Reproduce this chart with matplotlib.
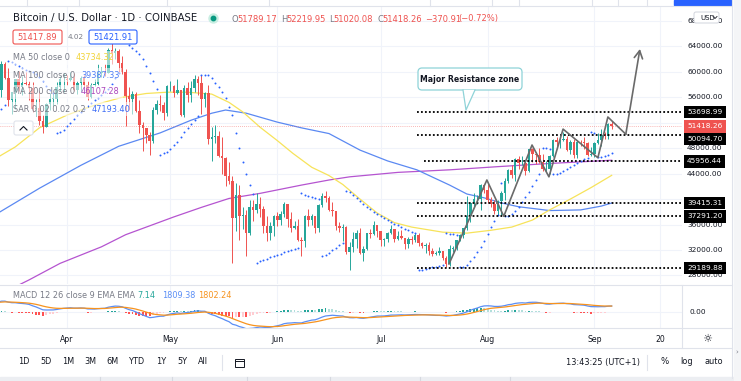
import numpy as np
import pandas as pd
import matplotlib
matplotlib.use("Agg")
from matplotlib import pyplot as plt
import matplotlib.transforms as mtransforms
from matplotlib.patches import Rectangle, FancyBboxPatch, Polygon
from matplotlib.lines import Line2D

W, H = 741, 381

# BTC/USD daily candles (COINBASE), 2021-03-12 .. 2021-09-06, open = previous close
first_day = "2021-03-12"
first_open = 57800
closes = [57200, 61200, 59000, 55600, 56900, 58900, 57600, 58300, 58100, 57400,
          54100, 54300, 52300, 51300, 55000, 55800, 55800, 57600, 58800, 58800,
          # Apr
          58700, 59000, 57100, 58200, 59100, 57900, 56000, 58000, 58100, 59800,
          59900, 59800, 63500, 62900, 63200, 61400, 60000, 56200, 55700, 56500,
          53800, 51700, 51100, 50100, 49100, 54000, 55000, 54800, 53500, 57700,
          # May
          57800, 56600, 57200, 53200, 57500, 56400, 57400, 58900, 58300, 55800,
          56700, 49400, 49700, 49900, 46800, 46400, 43600, 42900, 37000, 40700,
          37300, 37500, 34700, 38800, 38300, 39300, 38500, 35700, 34600, 35700, 37300,
          # Jun
          36700, 37600, 39200, 36900, 35500, 35800, 33600, 33400, 37400, 36700,
          37300, 35500, 39000, 40500, 40200, 38300, 38100, 35800, 35500, 35600,
          31700, 32500, 33700, 34700, 31600, 32200, 34700, 34500, 35900, 35000,
          # Jul
          33500, 33800, 34700, 35300, 33700, 34200, 33900, 32900, 33800, 33500,
          34300, 33100, 32700, 32800, 31900, 31400, 31500, 31800, 30800, 29800,
          32100, 32300, 33600, 34300, 35400, 37300, 39400, 40000, 40000, 42200, 41500,
          # Aug
          39900, 39200, 38200, 39700, 40900, 42800, 44600, 43800, 46300, 45600,
          45600, 44400, 47800, 47100, 47000, 45900, 44700, 44700, 46800, 49300,
          48900, 49300, 49500, 47700, 48900, 47000, 49000, 48900, 48800, 46900, 47100,
          # Sep
          48800, 49300, 50000, 49900, 51789, 51418]
highs = [58000, 61700, 61600, 60600, 56900, 58900, 60100, 59400, 59900, 58600,
         58400, 55800, 57200, 53200, 55100, 56600, 56600, 58400, 59400, 59800,
         59500, 60000, 59800, 58500, 59300, 59500, 58600, 58200, 58900, 61200,
         60700, 61200, 63800, 64900, 63800, 63600, 62500, 60400, 57600, 57000,
         56800, 55500, 52100, 51200, 50500, 54400, 55500, 56400, 55200, 58000,
         58500, 57900, 58900, 57200, 57900, 58400, 58600, 59500, 59300, 59500,
         56900, 58000, 51400, 51600, 50700, 49800, 46600, 45800, 43600, 42500,
         42200, 38800, 38300, 39900, 39800, 40900, 40400, 38900, 37300, 36400, 37500,
         37900, 38200, 39500, 39300, 37900, 36500, 36800, 34100, 37500, 38400,
         37700, 37400, 39300, 41000, 41300, 40500, 39500, 38200, 36400, 36100,
         35700, 33300, 34800, 35200, 35500, 32700, 34700, 35300, 36600, 36000,
         35000, 33900, 34900, 35900, 35300, 35000, 35100, 33900, 34100, 34200,
         34600, 34700, 33300, 33100, 33200, 32300, 31900, 32400, 31900, 31000,
         32800, 32600, 33600, 34500, 35400, 40500, 39500, 40900, 40600, 42300, 42400,
         42600, 40400, 39800, 39900, 41300, 43300, 44700, 45300, 46500, 46700,
         46800, 46200, 47900, 48100, 47400, 48000, 47100, 46000, 47000, 49400,
         49800, 49500, 50500, 49900, 49300, 49400, 49300, 49300, 49700, 48900, 48200,
         48900, 50400, 51000, 50600, 51900, 52220]
lows = [54900, 56100, 58900, 54600, 53300, 54100, 57000, 56300, 57900, 55500,
        53700, 53000, 51700, 50400, 51300, 54000, 54700, 54900, 57000, 56900,
        57900, 58500, 57000, 56500, 56800, 57600, 55500, 55900, 57700, 57900,
        59200, 59400, 59800, 61300, 62000, 60000, 59600, 51500, 54000, 53400,
        53700, 50400, 47500, 48800, 47000, 48800, 53300, 53900, 52400, 53000,
        57000, 56000, 56500, 53000, 52900, 55200, 55300, 56900, 56300, 53400,
        54400, 48600, 46000, 48800, 46600, 43900, 42100, 42300, 30000, 35000,
        33500, 35300, 31100, 34300, 36500, 37800, 37200, 34700, 33400, 33500, 34200,
        35700, 35900, 37200, 35600, 34800, 35300, 33400, 31000, 32400, 35800,
        35900, 34700, 34800, 38800, 39600, 38100, 37400, 35200, 34900, 33400,
        31300, 28800, 31700, 32300, 31300, 30200, 32000, 33900, 34300, 34000,
        32700, 32700, 33300, 34500, 33200, 33500, 33800, 32100, 32300, 33000,
        33300, 32700, 32300, 31600, 31200, 31000, 31200, 31200, 30400, 29300,
        29500, 31700, 32000, 33400, 33900, 35200, 36400, 38800, 39300, 38300, 41000,
        39400, 38700, 37600, 37500, 37300, 39900, 42500, 43300, 42800, 44700,
        45400, 43800, 44300, 45900, 45500, 45600, 44400, 44200, 43900, 46600,
        48300, 48100, 49100, 47600, 47100, 46400, 46400, 48400, 47800, 46800, 46700,
        46600, 48600, 48400, 49500, 49500, 51020]

# moving averages (x = days counted from 2021-03-01)
ma50_day = [11.6, 16, 23, 31, 36, 41, 47, 54, 60, 66, 73, 78, 82, 87, 92, 96.5,
            102, 107, 111, 116, 121, 126, 131, 140, 147, 154, 160, 166, 171, 177, 183, 189]
ma50_val = [46800, 48200, 51200, 53200, 54200, 55100, 56000, 56600, 56800, 56800, 56500,
            55200, 53700, 51300, 49200, 47200, 45000, 43700, 42300, 40000, 37800, 36300,
            35600, 34800, 34650, 35100, 35600, 36700, 38300, 40000, 41800, 43734]
ma100_day = [11.6, 23, 35, 46, 58, 67, 73, 77, 83, 92, 99, 107, 116, 124, 132.5,
             142, 147, 152, 157, 162, 171, 180, 186, 189]
ma100_val = [38000, 41700, 45300, 48300, 50400, 52400, 53500, 54000, 53500, 52100, 51200,
             50300, 47700, 46000, 44600, 42200, 40800, 40200, 39400, 38800, 38200, 38300,
             38900, 39387]
ma200_day = [11.6, 17.4, 20, 29, 41, 48, 55, 62, 70, 78, 87, 99, 107, 113, 127, 142,
             156, 171, 189]
ma200_val = [25100, 26600, 27300, 29900, 32500, 34400, 35800, 37200, 38700, 40100, 40900,
             42200, 43000, 43500, 44200, 44600, 45100, 45600, 46107]

# indicator state at the start of the window
sar_seed, sar_ep_seed, sar_af_seed = 53600, 58000, 0.06
macd_seed_fast, macd_seed_slow, macd_seed_signal = 54500, 51500, 2900

# drawings
levels = [53698.99, 50094.70, 45956.44, 39415.31, 37291.20, 29189.88]
level_start = [132.5, 132.5, 134.5, 132.5, 132.5, 132.5]
label_shift = [0, -4, 0, 0, 0, 0]          # px, axis label pushed off the last-price tag
zig_day = [141.8, 152.8, 157.7, 165.9, 170.8, 174.9, 185.0, 187.9, 193.1]
zig_price = [29800, 43000, 37300, 48500, 43500, 51000, 46500, 52900, 50200]
arrow_day, arrow_price = 197.2, 63600
last_price = 51418.26
price_ticks = [28000, 32000, 36000, 40000, 44000, 48000, 52000, 56000, 60000, 64000, 68000]
hidden_ticks = [40000, 52000]
month_days = ["2021-04-01", "2021-05-01", "2021-06-01", "2021-07-01", "2021-08-01",
              "2021-09-01", "2021-09-20"]
month_labels = ["Apr", "May", "Jun", "Jul", "Aug", "Sep", "20"]

UP, DOWN = "#26a69a", "#ef5350"
TXT, GREY, GRID, LINE = "#131722", "#787b86", "#f0f3fa", "#e0e3eb"
BLUE = "#2962ff"


def parabolic_sar(hi, lo, sar, ep, af, up, step=0.02, max_af=0.2):
    out = []
    for i in range(len(hi)):
        s = sar + af * (ep - sar)
        if up:
            if i > 0:
                s = min(s, lo[i - 1])
            if i > 1:
                s = min(s, lo[i - 2])
            if lo[i] < s:
                up, s, ep, af = False, ep, lo[i], step
            elif hi[i] > ep:
                ep, af = hi[i], min(af + step, max_af)
        else:
            if i > 0:
                s = max(s, hi[i - 1])
            if i > 1:
                s = max(s, hi[i - 2])
            if hi[i] > s:
                up, s, ep, af = True, ep, hi[i], step
            elif lo[i] < ep:
                ep, af = lo[i], min(af + step, max_af)
        out.append(s)
        sar = s
    return np.array(out)


def ema(values, start, n):
    k = 2.0 / (n + 1)
    out, e = [], start
    for v in values:
        e = e + k * (v - e)
        out.append(e)
    return np.array(out)


dates = pd.date_range(first_day, periods=len(closes), freq="D")
day0 = pd.Timestamp("2021-03-01")
x = np.array((dates - day0).days, dtype=float)
c = np.array(closes, float)
h = np.array(highs, float)
l = np.array(lows, float)
o = np.concatenate([[first_open], c[:-1]])

sar = parabolic_sar(h, l, sar_seed, sar_ep_seed, sar_af_seed, True)
macd = ema(c, macd_seed_fast, 12) - ema(c, macd_seed_slow, 26)
signal = ema(macd, macd_seed_signal, 9)
hist = macd - signal
mdays = np.array((pd.to_datetime(month_days) - day0).days, dtype=float)

fig = plt.figure(figsize=(W / 100, H / 100), dpi=100)
fig.patch.set_facecolor("white")
PX = mtransforms.IdentityTransform()


def fx(v):
    return v / W


def fy(v):
    return 1 - v / H


def hline(x0, x1, y, color=LINE, lw=0.8):
    fig.add_artist(Line2D([x0, x1], [H - y, H - y], color=color, lw=lw, transform=PX))


def vline(xp, y0, y1, color=LINE, lw=0.8):
    fig.add_artist(Line2D([xp, xp], [H - y0, H - y1], color=color, lw=lw, transform=PX))


def ptext(xp, yp, s, **kw):
    kw.setdefault("va", "center")
    kw.setdefault("fontsize", 5.9)
    kw.setdefault("color", TXT)
    return fig.text(fx(xp), fy(yp), s, **kw)


XLIM = (11.57, 209.4)

# ---------------- main price pane ----------------
ax = fig.add_axes([0, fy(284), fx(682), (284 - 7) / H])
ax.set_xlim(*XLIM)
ax.set_ylim(26656, 70192)
ax.axis("off")
for p in price_ticks:
    ax.axhline(p, color=GRID, lw=0.8, zorder=0)
for d in mdays:
    ax.axvline(d, color=GRID, lw=0.8, zorder=0)

ax.plot(ma200_day, ma200_val, color="#b554d0", lw=0.9, zorder=2)
ax.plot(ma100_day, ma100_val, color="#5b89f2", lw=0.9, zorder=2)
ax.plot(ma50_day, ma50_val, color="#f7e35a", lw=0.9, zorder=2)
ax.axhline(last_price, color=DOWN, lw=0.5, ls=(0, (1, 2)), alpha=0.8, zorder=2.5)

cols = np.where(c >= o, UP, DOWN)
ax.vlines(x, l, h, colors=cols, lw=0.7, zorder=3)
ax.bar(x, np.maximum(np.abs(c - o), 80), bottom=np.minimum(o, c), width=0.72,
       color=cols, zorder=3.1, linewidth=0)
ax.scatter(x, sar, s=2.0, color=BLUE, zorder=4, linewidths=0)

for lv, st in zip(levels, level_start):
    ax.plot([st, XLIM[1]], [lv, lv], color="black", lw=1.3, ls=(0, (1, 1.2)), zorder=5)

ax.plot(zig_day, zig_price, color="#6a6a6a", lw=1.2, zorder=6)
ax.annotate("", xy=(arrow_day, arrow_price), xytext=(zig_day[-1], zig_price[-1]),
            arrowprops=dict(arrowstyle="->,head_length=0.55,head_width=0.3",
                            color="#6a6a6a", lw=1.2, shrinkA=0, shrinkB=0), zorder=6)

# price axis
yax = mtransforms.blended_transform_factory(ax.transAxes, ax.transData)
lab_x = 687 / 682
for p in price_ticks:
    if p in hidden_ticks:
        continue
    ax.text(lab_x, p, f"{p:.2f}", transform=yax, fontsize=5.3, color=TXT,
            va="center", ha="left", clip_on=False)
for lv, sh in zip(levels, label_shift):
    tr = mtransforms.offset_copy(yax, fig=fig, y=sh, units="dots")
    ax.text(lab_x, lv, f"{lv:.2f}", transform=tr, fontsize=5.3, color="white",
            va="center", ha="left", clip_on=False, zorder=8,
            bbox=dict(boxstyle="square,pad=0.45", fc="black", ec="none"))
ax.text(lab_x, last_price, f"{last_price:.2f}", transform=yax, fontsize=5.3, color="white",
        va="center", ha="left", clip_on=False, zorder=9,
        bbox=dict(boxstyle="square,pad=0.45", fc=DOWN, ec="none"))

# ---------------- MACD pane ----------------
ax2 = fig.add_axes([0, fy(328), fx(682), (328 - 285) / H])
ax2.set_xlim(*XLIM)
ax2.set_ylim(-4832, 8154)
ax2.axis("off")
ax2.axhline(0, color=GRID, lw=0.8, zorder=0)
for d in mdays:
    ax2.axvline(d, color=GRID, lw=0.8, zorder=0)
prev = np.concatenate([[hist[0]], hist[:-1]])
hcols = np.where(hist >= 0, np.where(hist > prev, "#26a69a", "#b2dfdb"),
                 np.where(hist < prev, "#ff5252", "#ffcdd2"))
ax2.bar(x, hist, width=0.55, color=hcols, linewidth=0, zorder=1)
ax2.plot(x, macd, color="#5b8ef5", lw=0.9, zorder=2)
ax2.plot(x, signal, color="#f7931e", lw=0.9, zorder=2)
ptext(690, 312, "0.00", fontsize=5.3)

# date axis
tx = mtransforms.blended_transform_factory(ax2.transData, fig.transFigure)
for d, lab in zip(mdays, month_labels):
    fig.text(d, fy(339), lab, transform=tx, ha="center", va="center", fontsize=5.6, color=TXT)
ptext(707, 339, "\u263c", fontsize=8, ha="center")

# ---------------- frame / toolbars ----------------
hline(0, 732, 6)
for xp in [27, 79, 167, 269, 430, 492, 519, 592, 618, 647]:
    vline(xp, 0, 6)
fig.add_artist(Rectangle((674, H - 5), 57, 5, color=BLUE, transform=PX))
hline(0, 732, 284.5)
hline(0, 732, 328)
hline(0, 732, 348)
vline(682, 284.5, 348)
vline(732, 0, 378)
fig.add_artist(Rectangle((0, 0), W, 4, color="#eceef2", transform=PX))
for xp in [100, 172, 247, 330, 420, 510]:
    vline(xp, 377, 381, color="#d6d9e0")
fig.add_artist(Rectangle((734, 0), 7, H, color="#f4f5f7", transform=PX))
ptext(737, 352, "\u203a", fontsize=5, color=GREY, ha="center")

for xp, s in zip([24, 46, 68, 90, 112, 137, 161, 182, 203],
                 ["1D", "5D", "1M", "3M", "6M", "YTD", "1Y", "5Y", "All"]):
    ptext(xp, 362, s, ha="center", fontsize=5.9)
vline(222, 355, 370)
fig.add_artist(Rectangle((235, H - 367), 9, 8, fill=False, ec=TXT, lw=0.7, transform=PX))
hline(235, 244, 361, color=TXT, lw=0.7)
ptext(603, 362, "13:43:25 (UTC+1)", ha="center", fontsize=5.9)
vline(647, 355, 370)
ptext(665, 362, "%", ha="center", fontsize=6.2)
ptext(687, 362, "log", ha="center", fontsize=5.9)
ptext(714, 362, "auto", ha="center", fontsize=5.9)

# USD button over the 68000 label
fig.add_artist(FancyBboxPatch((694, H - 23), 25, 11, boxstyle="round,pad=0,rounding_size=2",
                              fc="white", ec="#d1d4dc", lw=0.7, transform=PX, zorder=9))
ptext(700, 17.5, "USD", fontsize=5, zorder=10)
fig.add_artist(Line2D([713, 715, 717], [H - 16.5, H - 18.5, H - 16.5], color=TXT, lw=0.6,
                      transform=PX, zorder=10))

# ---------------- header / legend ----------------
ptext(13, 18, "Bitcoin / U.S. Dollar \u00b7 1D \u00b7 COINBASE", fontsize=7.3)
fig.add_artist(Line2D([213], [H - 18], marker="o", ms=6.5, color="#c9eee2", lw=0, transform=PX))
fig.add_artist(Line2D([213], [H - 18], marker="o", ms=3.2, color="#089981", lw=0, transform=PX))
for xp, k, v in [(232, "O", "51789.17"), (281, "H", "52219.95"), (329, "L", "51020.08"),
                 (377, "C", "51418.26")]:
    ptext(xp, 19, k, fontsize=6, color=GREY)
    ptext(xp + {"O": 5.6, "H": 5.4, "L": 4.3, "C": 5.2}[k], 19, v, fontsize=6, color=DOWN)
ptext(425, 19, "\u2212370.91", fontsize=6, color=DOWN)
ptext(458, 19, "(\u22120.72%)", fontsize=6, color=DOWN)

fig.add_artist(FancyBboxPatch((13, H - 44), 49, 14, boxstyle="round,pad=0,rounding_size=2",
                              fc="white", ec=DOWN, lw=0.8, transform=PX, zorder=9))
ptext(37.5, 37, "51417.89", fontsize=6, color=DOWN, ha="center", zorder=10)
ptext(68, 37, "4.02", fontsize=5.2, color=GREY, zorder=10)
fig.add_artist(FancyBboxPatch((89, H - 44), 48, 14, boxstyle="round,pad=0,rounding_size=2",
                              fc="white", ec=BLUE, lw=0.8, transform=PX, zorder=9))
ptext(113, 37, "51421.91", fontsize=6, color=BLUE, ha="center", zorder=10)

fade = dict(boxstyle="square,pad=0.35", fc="white", ec="none", alpha=0.55)
for yp, name, xv, val, col in [(58, "MA 50 close 0", 76, "43734.32", "#f2d43a"),
                               (75, "MA 100 close 0", 81, "39387.33", "#4f7df5"),
                               (92, "MA 200 close 0", 81, "46107.28", "#ab47bc"),
                               (109, "SAR 0.02 0.02 0.2", 92, "47193.40", "#3d6cf5")]:
    ptext(13, yp, name, color=GREY, bbox=fade, zorder=10)
    ptext(xv, yp, val, color=col, bbox=fade, zorder=10)

fig.add_artist(FancyBboxPatch((14, H - 135), 19, 14, boxstyle="round,pad=0,rounding_size=2",
                              fc="white", ec=LINE, lw=0.8, transform=PX, zorder=9))
fig.add_artist(Line2D([20, 23.5, 27], [H - 130, H - 126.5, H - 130], color=TXT, lw=0.8,
                      transform=PX, zorder=10))

ptext(13, 296, "MACD 12 26 close 9 EMA EMA", color=GREY)
ptext(137, 296, "7.14", color="#26a69a")
ptext(162, 296, "1809.38", color="#5b8ef5")
ptext(198, 296, "1802.24", color="#f7931e")

# callout
teal = "#8fd3d8"
fig.add_artist(FancyBboxPatch((418, H - 90), 104, 22, boxstyle="round,pad=0,rounding_size=4",
                              fc="white", ec=teal, lw=0.9, transform=PX, zorder=9))
fig.add_artist(Polygon([(463, H - 90), (466, H - 110), (475, H - 90)], closed=True,
                       fc="white", ec="none", transform=PX, zorder=9.5))
fig.add_artist(Line2D([463, 466, 475], [H - 90, H - 110, H - 90], color=teal, lw=0.9,
                      transform=PX, zorder=9.6))
ptext(470, 79, "Major Resistance zone", ha="center", fontsize=5.6, fontweight="bold",
      zorder=10)

fig.savefig("out.png", dpi=100, facecolor="white")
